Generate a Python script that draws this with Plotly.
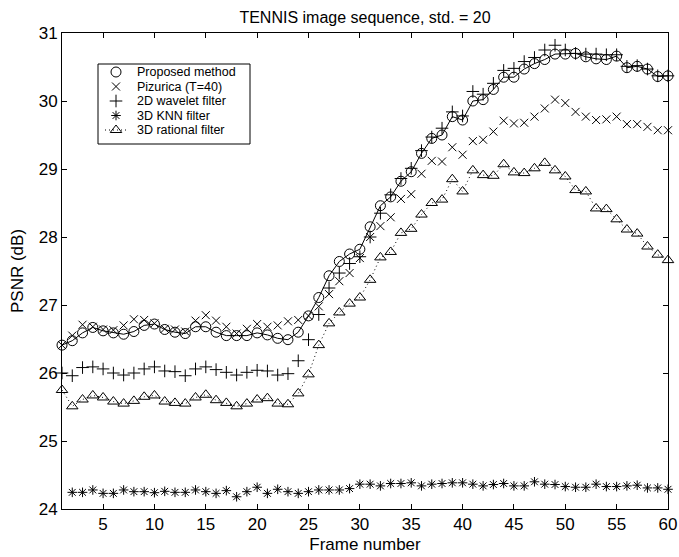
import plotly.graph_objects as go

# Frame indices
frames = list(range(1, 61))
knn_frames = list(range(2, 61))

# PSNR (dB) per frame for each denoising method
proposed = [26.41, 26.475, 26.59, 26.67, 26.62, 26.59, 26.57, 26.61, 26.70, 26.72,
            26.64, 26.60, 26.58, 26.68, 26.68, 26.60, 26.55, 26.55, 26.55, 26.59,
            26.56, 26.51, 26.49, 26.60, 26.84, 27.11, 27.43, 27.64, 27.75, 27.82,
            28.15, 28.46, 28.59, 28.82, 28.96, 29.23, 29.45, 29.50, 29.77, 29.72,
            30.00, 30.02, 30.17, 30.35, 30.35, 30.47, 30.55, 30.61, 30.69, 30.69,
            30.70, 30.65, 30.62, 30.61, 30.66, 30.49, 30.51, 30.47, 30.36, 30.37]

pizurica = [26.41, 26.55, 26.71, 26.68, 26.64, 26.63, 26.70, 26.79, 26.78, 26.73,
            26.65, 26.64, 26.61, 26.77, 26.85, 26.77, 26.68, 26.58, 26.65, 26.72,
            26.68, 26.70, 26.76, 26.78, 26.84, 26.98, 27.16, 27.35, 27.47, 27.69,
            28.00, 28.16, 28.29, 28.56, 28.63, 28.93, 29.12, 29.11, 29.32, 29.21,
            29.41, 29.43, 29.55, 29.71, 29.67, 29.68, 29.77, 29.89, 30.02, 29.97,
            29.84, 29.77, 29.72, 29.73, 29.77, 29.66, 29.66, 29.62, 29.57, 29.57]

wavelet2d = [26.00, 25.96, 26.08, 26.09, 26.06, 26.00, 25.97, 26.00, 26.06, 26.09,
             26.03, 26.02, 25.96, 26.06, 26.09, 26.05, 26.01, 25.97, 26.01, 26.04,
             26.03, 25.97, 25.99, 26.18, 26.49, 26.86, 27.25, 27.47, 27.61, 27.71,
             28.00, 28.35, 28.62, 28.86, 29.01, 29.27, 29.47, 29.60, 29.84, 29.78,
             30.14, 30.10, 30.26, 30.45, 30.48, 30.58, 30.64, 30.75, 30.82, 30.75,
             30.70, 30.69, 30.69, 30.68, 30.68, 30.51, 30.52, 30.47, 30.37, 30.37]

knn3d = [24.245, 24.245, 24.28, 24.23, 24.23, 24.28, 24.255, 24.255, 24.24,
         24.26, 24.245, 24.245, 24.28, 24.255, 24.23, 24.27, 24.18, 24.255, 24.32,
         24.23, 24.29, 24.255, 24.23, 24.255, 24.28, 24.28, 24.28, 24.30, 24.365,
         24.365, 24.34, 24.375, 24.375, 24.385, 24.34, 24.365, 24.375, 24.385, 24.385,
         24.365, 24.34, 24.36, 24.375, 24.34, 24.34, 24.40, 24.365, 24.36, 24.33,
         24.32, 24.32, 24.365, 24.33, 24.33, 24.34, 24.35, 24.31, 24.31, 24.29]

rational3d = [25.75, 25.51, 25.61, 25.67, 25.64, 25.58, 25.55, 25.59, 25.65, 25.67,
              25.58, 25.56, 25.55, 25.64, 25.68, 25.60, 25.56, 25.51, 25.55, 25.61,
              25.63, 25.55, 25.54, 25.70, 25.98, 26.41, 26.73, 26.89, 27.02, 27.11,
              27.37, 27.70, 27.78, 28.06, 28.12, 28.33, 28.50, 28.55, 28.85, 28.67,
              28.98, 28.91, 28.90, 29.07, 28.95, 28.94, 29.01, 29.09, 28.98, 28.89,
              28.69, 28.67, 28.42, 28.41, 28.26, 28.11, 28.05, 27.86, 27.74, 27.66]

series_names = ["Proposed method", "Pizurica (T=40)", "2D wavelet filter",
                "3D KNN filter", "3D rational filter"]

x_ticks = list(range(5, 61, 5))
y_ticks = list(range(24, 32))

FONT = "Liberation Sans, Arial, Helvetica, sans-serif"
BLACK = "black"

# marker style per series: (symbol, size)
styles = [("circle-open", 10), ("x-thin-open", 8), ("cross-thin-open", 9),
          ("asterisk-open", 8), ("triangle-up-open", 10)]


def mk(i):
    sym, size = styles[i]
    return dict(symbol=sym, size=size, color=BLACK, line=dict(color=BLACK, width=1))


DOTTED = dict(color=BLACK, width=1, dash="1px,3px")

fig = go.Figure()

# solid line through the proposed-method points
fig.add_trace(go.Scatter(x=frames, y=proposed, mode="lines",
                         line=dict(color=BLACK, width=1), hoverinfo="skip"))

fig.add_trace(go.Scatter(x=frames, y=proposed, mode="markers", name=series_names[0],
                         marker=mk(0), cliponaxis=False))
fig.add_trace(go.Scatter(x=frames, y=pizurica, mode="markers", name=series_names[1],
                         marker=mk(1), cliponaxis=False))
fig.add_trace(go.Scatter(x=frames, y=wavelet2d, mode="markers", name=series_names[2],
                         marker=mk(2), cliponaxis=False))
fig.add_trace(go.Scatter(x=knn_frames, y=knn3d, mode="markers", name=series_names[3],
                         marker=mk(3), cliponaxis=False))
fig.add_trace(go.Scatter(x=frames, y=rational3d, mode="lines+markers", name=series_names[4],
                         line=DOTTED, marker=mk(4), cliponaxis=False))

# ---- compact boxed legend drawn on an invisible overlay axis (0..1 in both directions)
PLOT_L, PLOT_R, PLOT_T, PLOT_B = 62, 668, 33, 509


def fx(px):
    return (px - PLOT_L) / (PLOT_R - PLOT_L)


def fy(py):
    return (PLOT_B - py) / (PLOT_B - PLOT_T)


row_px = [72, 86.5, 101, 115.5, 130]
sym_x = fx(116)
text_x = fx(136)

for i, name in enumerate(series_names):
    fig.add_trace(go.Scatter(x=[sym_x], y=[fy(row_px[i])], mode="markers",
                             marker=mk(i), xaxis="x2", yaxis="y2", cliponaxis=False,
                             hoverinfo="skip"))
    fig.add_annotation(x=text_x, y=fy(row_px[i]), xref="paper", yref="paper",
                       text=name, showarrow=False, xanchor="left", yanchor="middle",
                       borderpad=0, font=dict(family=FONT, size=12.5, color=BLACK))

fig.add_trace(go.Scatter(x=[fx(105), fx(128)], y=[fy(row_px[4])] * 2, mode="lines",
                         line=DOTTED, xaxis="x2", yaxis="y2", hoverinfo="skip"))

fig.add_shape(type="rect", xref="paper", yref="paper",
              x0=fx(98), x1=fx(250), y0=fy(144), y1=fy(64),
              line=dict(color=BLACK, width=1), fillcolor="white", layer="below")

axis_common = dict(showline=True, linecolor=BLACK, linewidth=1, mirror="ticks",
                   ticks="inside", ticklen=5, tickcolor=BLACK, showgrid=False,
                   zeroline=False, automargin=False,
                   tickfont=dict(family=FONT, size=17, color=BLACK))

fig.update_xaxes(range=[1, 60], tickvals=x_ticks, ticktext=[str(v) for v in x_ticks],
                 title=dict(text="Frame number", font=dict(family=FONT, size=17, color=BLACK),
                            standoff=4),
                 **axis_common)
fig.update_yaxes(range=[24, 31], tickvals=y_ticks, ticktext=[str(v) for v in y_ticks],
                 title=dict(text="PSNR (dB)", font=dict(family=FONT, size=17, color=BLACK),
                            standoff=10),
                 **axis_common)

fig.update_layout(
    width=679, height=557,
    margin=dict(l=62, r=11, t=33, b=48),
    paper_bgcolor="white", plot_bgcolor="white",
    font=dict(family=FONT, color=BLACK),
    showlegend=False,
    xaxis2=dict(overlaying="x", range=[0, 1], visible=False, fixedrange=True),
    yaxis2=dict(overlaying="y", range=[0, 1], visible=False, fixedrange=True),
    title=dict(text="TENNIS image sequence, std. = 20", x=0.5, xref="paper",
               y=1 - 17 / 557, yref="container", yanchor="middle", xanchor="center",
               font=dict(family=FONT, size=16, color=BLACK)),
)

fig.write_html("out.html")
